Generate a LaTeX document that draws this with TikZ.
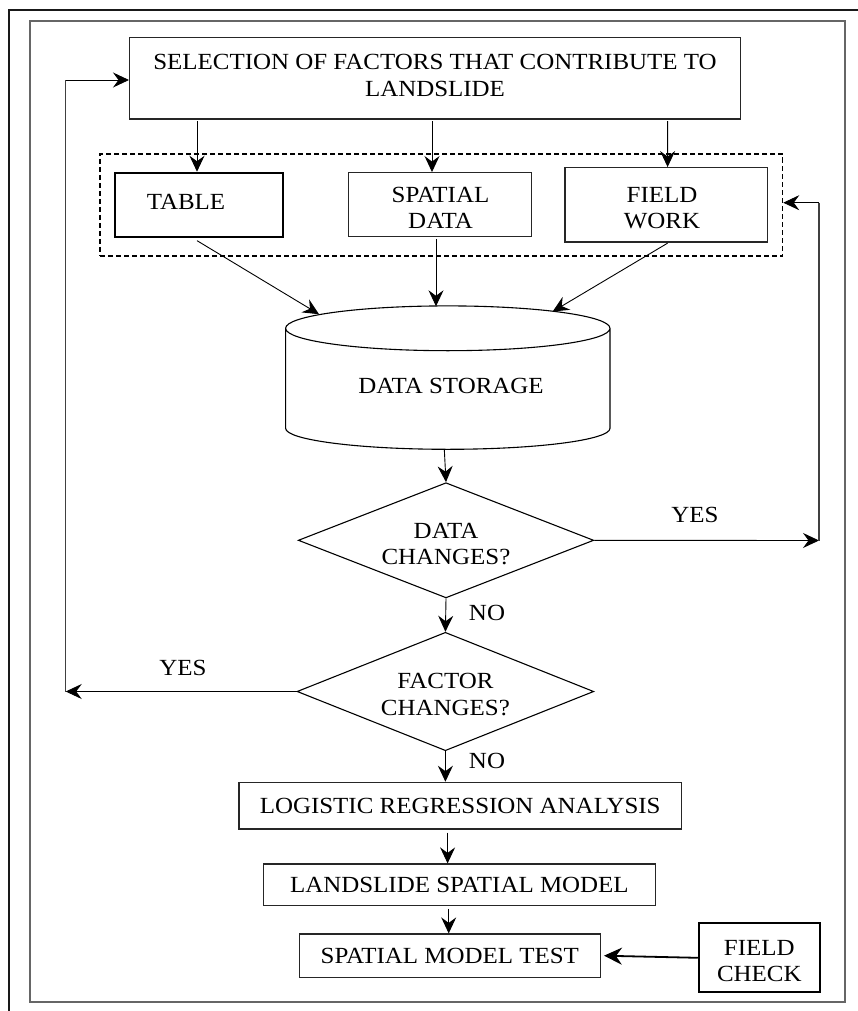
\documentclass[tikz,border=0pt]{standalone}
\usepackage{fontspec}
\setmainfont{Liberation Serif}[FakeStretch=1.08]
\usetikzlibrary{shapes.geometric,arrows.meta,calc}

\tikzset{
  txt/.style={font=\fontsize{23.1}{26.7}\selectfont, align=center, inner sep=0pt},
  procbox/.style={draw=black!85, line width=1.3pt, rectangle, inner sep=0pt},
  heavybox/.style={procbox, line width=2.2pt, draw=black},
  decision/.style={txt, draw=black, line width=1.1pt, diamond, aspect=2.56},
  flow/.style={draw=black, line width=0.9pt, -{Stealth[length=16pt,width=15pt,inset=5.5pt]}},
  heavyflow/.style={draw=black, line width=1.8pt, -{Stealth[length=18pt,width=17pt,inset=6pt]}},
  plain/.style={draw=black!75, line width=1.1pt},
  lbl/.style={font=\fontsize{23.1}{26.7}\selectfont, inner sep=0pt},
}

\begin{document}
\begin{tikzpicture}[x=1pt, y=-1pt]
  \useasboundingbox (0,0) rectangle (858,1011);
  \fill[white] (0,0) rectangle (858,1011);

  % page frames
  \draw[black!90, line width=2pt] (8.8,1011) -- (8.8,10) -- (858,10);
  \draw[black!60, line width=2pt] (30,21.5) rectangle (845,1001.7);

  % top process box
  \node[procbox, minimum width=610.7pt, minimum height=81.3pt] (select) at (435,78.3) {};
  \node[txt] (selectText) at (435,75.5) {SELECTION OF FACTORS THAT CONTRIBUTE TO\\LANDSLIDE};

  % data sources grouped in a dashed frame
  \node[draw=black, line width=1.5pt, dash pattern=on 5pt off 3pt, rectangle,
        minimum width=682.5pt, minimum height=102pt, inner sep=0pt] (group) at (441.25,205) {};
  \node[heavybox, line width=1.9pt, minimum width=168pt, minimum height=64pt] (table) at (199,204.7) {};
  \node[txt] (tableText) at (186,202) {TABLE};
  \node[procbox, minimum width=182.7pt, minimum height=64pt] (spatial) at (440,204.7) {};
  \node[txt] (spatialText) at (440.5,208) {SPATIAL\\DATA};
  \node[procbox, minimum width=202.7pt, minimum height=74.3pt] (field) at (666.4,204.85) {};
  \node[txt] (fieldText) at (662,208) {FIELD\\WORK};

  % data storage cylinder
  \draw[black, line width=1.1pt]
    (285.6,328.3) -- (285.6,428.3)
    arc[start angle=180, end angle=360, x radius=162.2pt, y radius=21pt]
    -- (610,328.3)
    arc[start angle=0, end angle=180, x radius=162.2pt, y radius=22.4pt]
    arc[start angle=180, end angle=360, x radius=162.2pt, y radius=22.4pt];
  \node[lbl] (store) at (451,386) {DATA STORAGE};
  \coordinate (storeTopL) at (319,314.2);
  \coordinate (storeTopM) at (436,306.3);
  \coordinate (storeTopR) at (552.7,311.5);
  \coordinate (storeBot) at (444.3,449.3);

  % decisions
  \node[decision, minimum width=295.5pt, minimum height=115.2pt] (dchange) at (446,540.3)
    {\\[-4pt]DATA\\CHANGES?};
  \node[decision, minimum width=296.7pt, minimum height=118.4pt] (fchange) at (445.4,691.5)
    {\\[-5pt]FACTOR\\CHANGES?};

  % analysis chain
  \node[procbox, txt, minimum width=442.3pt, minimum height=46.7pt] (lra) at (460.2,805.7)
    {LOGISTIC REGRESSION ANALYSIS};
  \node[procbox, txt, minimum width=392.3pt, minimum height=41.7pt] (lsm) at (459.4,884.9)
    {LANDSLIDE SPATIAL MODEL};
  \node[procbox, txt, minimum width=301pt, minimum height=43.3pt] (smt) at (449.8,955.7)
    {SPATIAL MODEL TEST};
  \node[heavybox, minimum width=120.9pt, minimum height=69pt] (check) at (759.3,957.8) {};
  \node[txt] (checkText) at (759.3,961) {FIELD\\CHECK};

  % factor selection feeds the sources
  \draw[flow] ($(select.south)+(-238,1.5)$) -- ($(table.north)+(-2,0)$);
  \draw[flow] ($(select.south)+(-3,1.5)$) -- ($(spatial.north)+(-8,0)$);
  \draw[flow] ($(select.south)+(232.6,1.5)$) -- ($(field.north)+(1.2,0)$);

  % sources into storage
  \draw[flow] ($(table.south)+(-2,3)$) -- (storeTopL);
  \draw[flow] ($(spatial.south)+(-4,1.5)$) -- (storeTopM);
  \draw[flow] ($(field.south)+(1.2,0.5)$) -- (storeTopR);

  % storage to first decision
  \draw[flow] (storeBot) -- (dchange.north);

  % data changes: YES loops back to the sources
  \coordinate (rcorner) at (819,540.5);
  \coordinate (rtop) at (819,202.7);
  \draw[flow] (dchange.east) -- (rcorner);
  \draw[plain] (rcorner) -- (rtop);
  \draw[flow] (rtop) -- (rtop -| group.east);
  \node[lbl] (yesR) at (695,515.3) {YES};

  % data changes: NO
  \draw[flow] (dchange.south) -- (fchange.north);
  \node[lbl] (noA) at (487,613.3) {NO};

  % factor changes: YES loops back to the selection
  \coordinate (lcorner) at (65.7,691.5);
  \coordinate (ltop) at (65.7,80);
  \draw[flow] (fchange.west) -- (lcorner);
  \draw[plain] (lcorner) -- (ltop);
  \draw[flow] (ltop) -- (ltop -| select.west);
  \node[lbl] (yesL) at (183,668.3) {YES};

  % factor changes: NO
  \draw[flow] (fchange.south) -- (fchange.south |- lra.north);
  \node[lbl] (noB) at (487,761) {NO};

  % analysis chain arrows
  \draw[flow] ($(lra.south)+(-12.6,3)$) -- ($(lsm.north)+(-11.8,0)$);
  \draw[flow] ($(lsm.south)+(-10.7,2.5)$) -- ($(smt.north)+(-1.1,0)$);
  \draw[heavyflow] (check.west) -- ($(smt.east)+(3,0)$);
\end{tikzpicture}
\end{document}
